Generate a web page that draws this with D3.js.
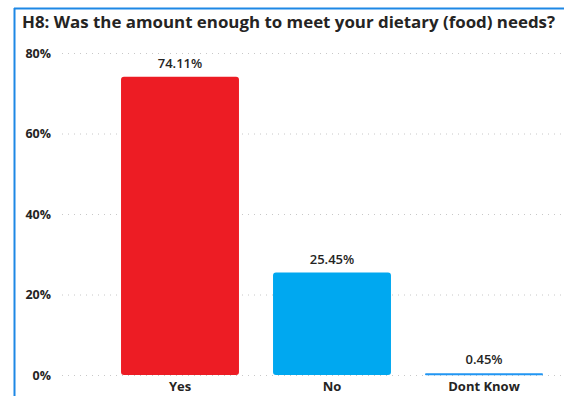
<!DOCTYPE html>
<html>
<head>
<meta charset="utf-8">
<script src="https://cdn.jsdelivr.net/npm/d3@7"></script>
<style>
    body { margin: 0; background: #fff; }
    svg { display: block; font-family: 'Open Sans', 'Noto Sans', sans-serif; }
</style>
</head>
<body>
<div id="chart"></div>
<script>
// chart data
const title = 'H8: Was the amount enough to meet your dietary (food) needs?'
const categories = ['Yes', 'No', 'Dont Know']
const values = [74.11, 25.45, 0.45]
const barColors = ['#ED1C24', '#00A8F0', '#2196F3']
const yTicks = [0, 20, 40, 60, 80]

const width = 564
const height = 396
const margin = { top: 53, right: 4, bottom: 21, left: 104 }

const svg = d3
    .select('#chart')
    .append('svg')
    .attr('width', width)
    .attr('height', height)

// frame lines (left and top)
svg.append('line')
    .attr('x1', 14.5).attr('x2', 14.5)
    .attr('y1', 8).attr('y2', height)
    .attr('stroke', '#1E88E5').attr('stroke-width', 2)
svg.append('line')
    .attr('x1', 14).attr('x2', width)
    .attr('y1', 8.5).attr('y2', 8.5)
    .attr('stroke', '#1E88E5').attr('stroke-width', 2)

// title
svg.append('text')
    .attr('x', 22)
    .attr('y', 28)
    .attr('font-size', 16)
    .attr('font-weight', 'bold')
    .attr('fill', '#252423')
    .attr('textLength', 533)
    .attr('lengthAdjust', 'spacingAndGlyphs')
    .text(title)

// scales
const x = d3
    .scaleBand()
    .domain(categories)
    .range([margin.left, width - margin.right])
    .paddingInner(0.224)
    .paddingOuter(0.112)

const y = d3
    .scaleLinear()
    .domain([0, 80])
    .range([height - margin.bottom, margin.top])

// gridlines + y labels
const yAxis = d3.axisLeft(y)
    .tickValues(yTicks)
    .tickFormat((d) => d + '%')
    .tickSize(0)
    .tickPadding(0)

svg.append('g')
    .attr('transform', 'translate(51,0)')
    .call(yAxis)
    .call((g) => g.select('.domain').remove())
    .call((g) => g.selectAll('text')
        .attr('font-size', 12.5)
        .attr('font-weight', 'bold')
        .attr('fill', '#252423')
        .attr('font-family', 'Open Sans, sans-serif'))

svg.append('g')
    .selectAll('line')
    .data(yTicks)
    .enter()
    .append('line')
    .attr('x1', 62)
    .attr('x2', 562)
    .attr('y1', (d) => y(d) + 0.5)
    .attr('y2', (d) => y(d) + 0.5)
    .attr('stroke', '#C8C8C8')
    .attr('stroke-width', 1)
    .attr('stroke-dasharray', '1,5')

// bars with rounded corners
svg.append('g')
    .selectAll('rect')
    .data(values)
    .enter()
    .append('rect')
    .attr('x', (d, i) => x(categories[i]))
    .attr('y', (d) => y(d))
    .attr('width', x.bandwidth())
    .attr('height', (d) => Math.max(2, y(0) - y(d)))
    .attr('rx', (d) => (y(0) - y(d) > 6 ? 3 : 1))
    .attr('fill', (d, i) => barColors[i])

// value labels
svg.append('g')
    .selectAll('text')
    .data(values)
    .enter()
    .append('text')
    .attr('x', (d, i) => x(categories[i]) + x.bandwidth() / 2)
    .attr('y', (d) => y(d) - 9)
    .attr('text-anchor', 'middle')
    .attr('font-size', 13)
    .attr('font-weight', 600)
    .attr('fill', '#252423')
    .text((d) => d.toFixed(2) + '%')

// x axis category labels
const xAxis = d3.axisBottom(x).tickSize(0).tickPadding(0)

svg.append('g')
    .attr('transform', `translate(0,${height - margin.bottom})`)
    .call(xAxis)
    .call((g) => g.select('.domain').remove())
    .call((g) => g.selectAll('text')
        .attr('dy', 16)
        .attr('font-size', 13)
        .attr('font-weight', 'bold')
        .attr('fill', '#252423')
        .attr('font-family', 'Open Sans, sans-serif'))
</script>
</body>
</html>
